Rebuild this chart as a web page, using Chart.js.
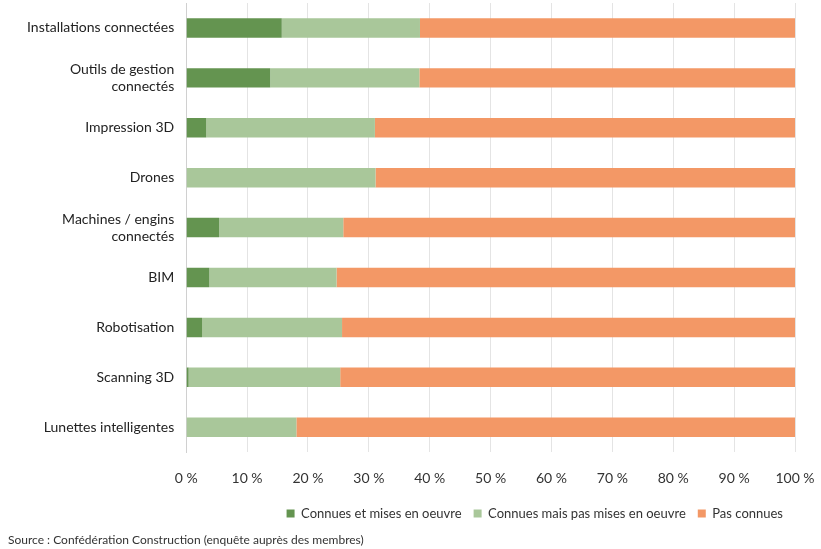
<!DOCTYPE html>
<html>
<head>
<meta charset="utf-8">
<script src="https://cdn.jsdelivr.net/npm/chart.js@4"></script>
<style>
  html, body { margin: 0; padding: 0; background: #fff; }
  #wrap { width: 821px; height: 549px; position: relative; }
</style>
</head>
<body>
<div id="wrap"><canvas id="myChart"></canvas></div>
<script>
const categories = [
  'Installations connectées',
  ['Outils de gestion', 'connectés'],
  'Impression 3D',
  'Drones',
  ['Machines / engins', 'connectés'],
  'BIM',
  'Robotisation',
  'Scanning 3D',
  'Lunettes intelligentes'
];
const miseEnOeuvre = [15.7, 13.8, 3.3, 0, 5.4, 3.8, 2.6, 0.4, 0];
const pasMiseEnOeuvre = [22.7, 24.5, 27.7, 31.1, 20.4, 20.9, 23.0, 24.9, 18.1];
const pasConnues = [61.6, 61.7, 69.0, 68.9, 74.2, 75.3, 74.4, 74.7, 81.9];
const seriesNames = ['Connues et mises en oeuvre', 'Connues mais pas mises en oeuvre', 'Pas connues'];
const sourceText = 'Source : Confédération Construction (enquête auprès des membres)';

const fontFamily = 'Lato, "Open Sans", sans-serif';

const sourcePlugin = {
  id: 'sourceText',
  afterDraw(chart) {
    const c = chart.ctx;
    c.save();
    c.font = '12px ' + fontFamily;
    c.fillStyle = '#333';
    c.textBaseline = 'middle';
    c.fillText(sourceText, 8, 540);
    c.restore();
  }
};

const ctx = document.getElementById('myChart').getContext('2d');
const myChart = new Chart(ctx, {
  type: 'bar',
  data: {
    labels: categories,
    datasets: [{
      label: seriesNames[0],
      data: miseEnOeuvre,
      backgroundColor: '#649450'
    }, {
      label: seriesNames[1],
      data: pasMiseEnOeuvre,
      backgroundColor: '#a9c79a'
    }, {
      label: seriesNames[2],
      data: pasConnues,
      backgroundColor: '#f39866'
    }]
  },
  plugins: [sourcePlugin],
  options: {
    indexAxis: 'y',
    responsive: true,
    maintainAspectRatio: false,
    animation: false,
    barPercentage: 0.39,
    categoryPercentage: 1,
    layout: {
      padding: { top: 3, right: 26, bottom: 19, left: 15 }
    },
    plugins: {
      legend: {
        position: 'bottom',
        align: 'end',
        labels: {
          color: '#333',
          font: { size: 13, family: fontFamily },
          boxWidth: 8,
          boxHeight: 8,
          padding: 12
        }
      },
      tooltip: { enabled: false }
    },
    scales: {
      x: {
        stacked: true,
        min: 0,
        max: 100,
        afterFit: scale => {
          scale.paddingLeft = 0;
          scale.paddingRight = 0;
          scale.height -= 10;
        },
        ticks: {
          stepSize: 10,
          color: '#333',
          font: { size: 14, family: fontFamily },
          padding: 18,
          callback: v => v + ' %'
        },
        grid: { color: '#e4e4e4', drawTicks: false },
        border: { display: false }
      },
      y: {
        stacked: true,
        afterFit: scale => {
          scale.paddingTop = 0;
          scale.paddingBottom = 0;
        },
        ticks: {
          color: '#222',
          font: { size: 14, family: fontFamily },
          padding: 12
        },
        grid: { display: false, drawTicks: false },
        border: { display: true, color: '#d0d0d0' }
      }
    }
  }
});
</script>
</body>
</html>
